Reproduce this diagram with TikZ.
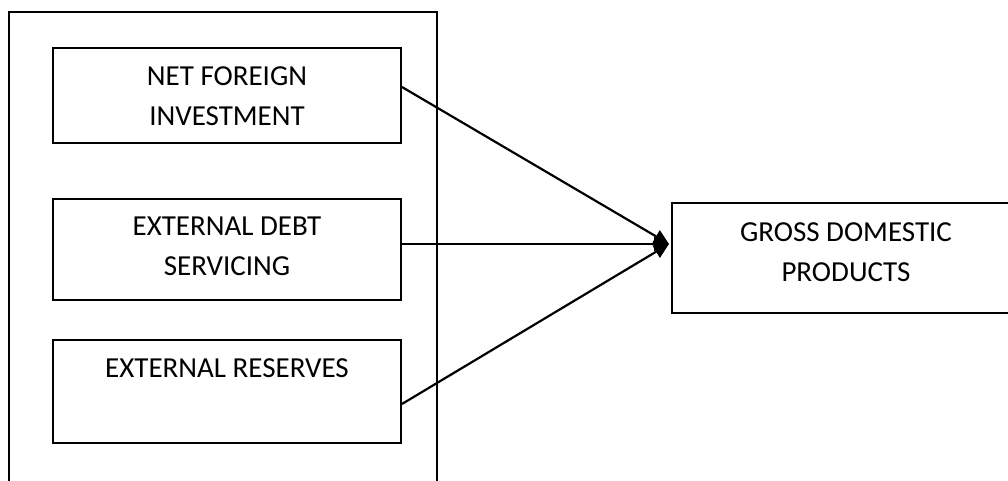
\documentclass[tikz,border=0pt]{standalone}
\usepackage{fontspec}
\setmainfont{Carlito}
\usetikzlibrary{arrows.meta}
\begin{document}
\begin{tikzpicture}[x=1pt,y=-1pt,
    box/.style={draw, line width=1.9pt, minimum width=348pt, inner sep=0pt},
    boxtext/.style={anchor=north, align=center, inner sep=0pt, font=\fontsize{29}{40}\selectfont},
    flow/.style={line width=2.2pt, -{Triangle[length=15pt,width=14pt]}}]
    % Marco de la imagen
    \useasboundingbox (0,0) rectangle (1008,481);
    \clip (0,0) rectangle (1008,481);

    % Marco exterior (abierto por abajo)
    \draw[line width=1.9pt] (9,500) -- (9,12) -- (437,12) -- (437,500);

    % Cajas de las variables
    \node[box, minimum height=95pt] (nfi) at (227,95.5) {};
    \node[box, minimum height=101pt] (eds) at (227,249.5) {};
    \node[box, minimum height=103pt] (ers) at (227,391.5) {};
    \node[box, minimum height=110pt] (gdp) at (846,258) {};

    % Etiquetas
    \node[boxtext] (nfitext) at ([yshift=-19pt]nfi.north) {NET FOREIGN\\INVESTMENT};
    \node[boxtext] (edstext) at ([yshift=-19pt]eds.north) {EXTERNAL DEBT\\SERVICING};
    \node[boxtext] (erstext) at ([yshift=-19pt]ers.north) {EXTERNAL RESERVES};
    \node[boxtext] (gdptext) at ([yshift=-20pt]gdp.north) {GROSS DOMESTIC\\PRODUCTS};

    % Flechas hacia el PIB
    \coordinate (hub) at (669,244);
    \draw[flow] ([yshift=8.5pt]nfi.east) -- (hub);
    \draw[flow] ([yshift=5.5pt]eds.east) -- (hub);
    \draw[flow] ([yshift=-12.5pt]ers.east) -- (hub);
\end{tikzpicture}
\end{document}
